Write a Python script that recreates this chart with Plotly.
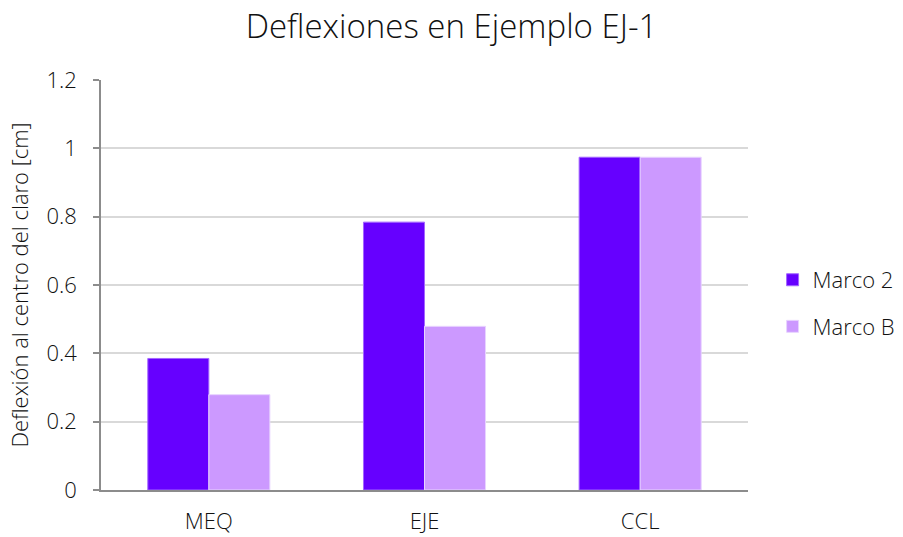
import plotly.graph_objects as go

categories = ["MEQ", "EJE", "CCL"]
marco_2 = [0.385, 0.784, 0.974]
marco_b = [0.279, 0.479, 0.974]
y_ticks = [0, 0.2, 0.4, 0.6, 0.8, 1, 1.2]
y_tick_text = ["0", "0.2", "0.4", "0.6", "0.8", "1", "1.2"]

FONT = "Open Sans"
TEXT = "#111111"

fig = go.Figure()
fig.add_trace(go.Bar(
    x=categories, y=marco_2, name="Marco 2", legendgroup="a",
    marker=dict(color="#6600FF", line=dict(color="#A366FF", width=1)),
))
fig.add_trace(go.Bar(
    x=categories, y=marco_b, name="Marco B", legendgroup="b",
    marker=dict(color="#CC99FF", line=dict(color="#E8D4FF", width=1)),
))

fig.update_layout(
    width=903, height=537,
    margin=dict(l=101, r=155, t=80, b=47, autoexpand=False),
    paper_bgcolor="white", plot_bgcolor="white",
    barmode="group", bargap=0.434, bargroupgap=0,
    font=dict(family=FONT, color=TEXT, size=20),
    title=dict(
        text="Deflexiones en Ejemplo EJ-1",
        x=0.5, xanchor="center", y=0.95, yanchor="middle",
        font=dict(family=FONT, size=33, color=TEXT, weight=300),
    ),
    legend=dict(
        x=1.038, xanchor="left", y=0.455, yanchor="middle",
        font=dict(family=FONT, size=22, color=TEXT, weight=300),
        tracegroupgap=15, itemwidth=30,
    ),
    xaxis=dict(
        showline=True, linecolor="#8c8c8c", linewidth=1.5,
        ticks="", showgrid=False, ticklabelstandoff=11, automargin=False,
        tickfont=dict(family=FONT, size=22, color=TEXT, weight=300),
    ),
    yaxis=dict(
        range=[0, 1.2], tickvals=y_ticks, ticktext=y_tick_text,
        showline=True, linecolor="#8c8c8c", linewidth=1.5,
        ticks="outside", ticklen=6, tickcolor="#8c8c8c", tickwidth=1.5,
        ticklabelstandoff=12, automargin=False,
        showgrid=True, gridcolor="#d9d9d9", gridwidth=1.5,
        zeroline=False,
        tickfont=dict(family=FONT, size=22, color=TEXT, weight=300),
        title=dict(
            text="Deflexión al centro del claro [cm]", standoff=12,
            font=dict(family=FONT, size=22, color=TEXT, weight=300),
        ),
    ),
)

fig.write_html("out.html")
